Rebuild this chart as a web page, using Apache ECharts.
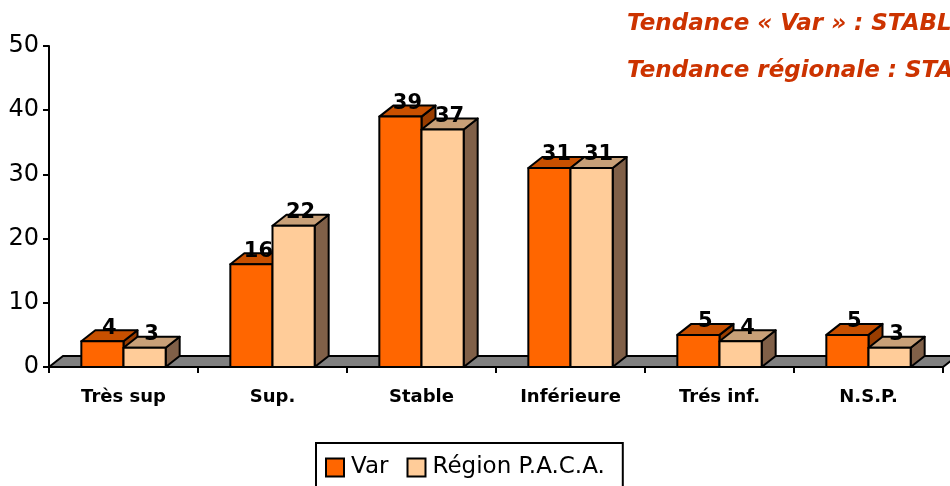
<!DOCTYPE html>
<html>
<head>
<meta charset="utf-8">
<script src="https://cdn.jsdelivr.net/npm/echarts@6/dist/echarts.min.js"></script>
<style>
  html, body { margin: 0; padding: 0; background: #fff; }
  #main { width: 950px; height: 486px; }
</style>
</head>
<body>
<div id="main"></div>
<script>
const categories = ["Très sup", "Sup.", "Stable", "Inférieure", "Trés inf.", "N.S.P."];
const varValues = [4, 16, 39, 31, 5, 5];
const pacaValues = [3, 22, 37, 31, 4, 3];
const yTicks = { min: 0, max: 50, interval: 10 };
const notes = ["Tendance « Var » : STABLE", "Tendance régionale : STABLE"];

const FONT = "DejaVu Sans";
const DX = 14, DY = 11; // profondeur 3D

// couleurs des faces : avant, dessus, côté
const faces = {
  "Var": ["#ff6600", "#c85000", "#993d00"],
  "Région P.A.C.A.": ["#ffcc99", "#c8a078", "#806048"]
};

function boxItem(name, side) {
  return function (params, api) {
    const idx = api.value(0), val = api.value(1);
    const top = api.coord([idx, val]);
    const base = api.coord([idx, 0]);
    const band = api.size([1, 0])[0];
    const w = band * 0.283;
    const x0 = side < 0 ? base[0] - w : base[0];
    const ty = top[1], by = base[1];
    const c = faces[name];
    const st = { stroke: "#000", lineWidth: 2, lineJoin: "round" };
    return {
      type: "group",
      children: [
        {
          type: "polygon",
          shape: { points: [[x0 + w, ty], [x0 + w + DX, ty - DY], [x0 + w + DX, by - DY], [x0 + w, by]] },
          style: Object.assign({ fill: c[2] }, st)
        },
        {
          type: "polygon",
          shape: { points: [[x0, ty], [x0 + DX, ty - DY], [x0 + w + DX, ty - DY], [x0 + w, ty]] },
          style: Object.assign({ fill: c[1] }, st)
        },
        {
          type: "rect",
          shape: { x: x0, y: ty, width: w, height: by - ty },
          style: Object.assign({ fill: c[0] }, st)
        },
        {
          type: "text",
          z2: 100,
          style: {
            text: String(val),
            x: x0 + w / 2 + DX / 2,
            y: ty - 13,
            align: "center",
            verticalAlign: "middle",
            font: "bold 21px '" + FONT + "'",
            fill: "#000"
          }
        }
      ]
    };
  };
}

function floorItem(params, api) {
  const cs = params.coordSys;
  const y = cs.y + cs.height;
  return {
    type: "polygon",
    shape: { points: [[cs.x, y], [cs.x + DX, y - DY], [cs.x + cs.width + DX, y - DY], [cs.x + cs.width, y]] },
    style: { fill: "#808080", stroke: "#000", lineWidth: 2 }
  };
}

const chart = echarts.init(document.getElementById("main"));
chart.setOption({
  animation: false,
  backgroundColor: "#fff",
  title: notes.map((t, i) => ({
    text: t,
    left: 627,
    top: 13 + i * 47,
    padding: 0,
    textStyle: { fontFamily: FONT, fontSize: 23, fontWeight: "bold", fontStyle: "italic", color: "#cc3300" }
  })),
  grid: { left: 49, right: 7, top: 46, bottom: 119 },
  legend: {
    data: ["Var", "Région P.A.C.A."],
    left: 316,
    top: 443,
    padding: [13, 18, 20, 9],
    borderColor: "#000",
    borderWidth: 2,
    itemWidth: 18,
    itemHeight: 18,
    itemGap: 18,
    icon: "rect",
    itemStyle: { borderColor: "#000", borderWidth: 2 },
    textStyle: { fontFamily: FONT, fontSize: 23, color: "#000", padding: [0, 0, 0, 2] }
  },
  xAxis: {
    type: "category",
    data: categories,
    axisLine: { lineStyle: { color: "#000", width: 2 } },
    axisTick: { show: true, length: 6, lineStyle: { color: "#000", width: 2 } },
    axisLabel: { fontFamily: FONT, fontSize: 18, fontWeight: "bold", color: "#000", margin: 21 }
  },
  yAxis: {
    type: "value",
    min: yTicks.min,
    max: yTicks.max,
    interval: yTicks.interval,
    splitLine: { show: false },
    axisLine: { show: true, lineStyle: { color: "#000", width: 2 } },
    axisTick: { show: true, length: 6, lineStyle: { color: "#000", width: 2 } },
    axisLabel: { fontFamily: FONT, fontSize: 24, color: "#000", margin: 10 }
  },
  series: [
    {
      type: "custom",
      name: "floor",
      z: 1,
      silent: true,
      renderItem: floorItem,
      data: [[0, 0]]
    },
    {
      type: "custom",
      name: "Var",
      z: 2,
      itemStyle: { color: faces["Var"][0] },
      encode: { x: 0, y: 1 },
      renderItem: boxItem("Var", -1),
      data: varValues.map((v, i) => [i, v])
    },
    {
      type: "custom",
      name: "Région P.A.C.A.",
      z: 2,
      itemStyle: { color: faces["Région P.A.C.A."][0] },
      encode: { x: 0, y: 1 },
      renderItem: boxItem("Région P.A.C.A.", 1),
      data: pacaValues.map((v, i) => [i, v])
    }
  ]
});
</script>
</body>
</html>
